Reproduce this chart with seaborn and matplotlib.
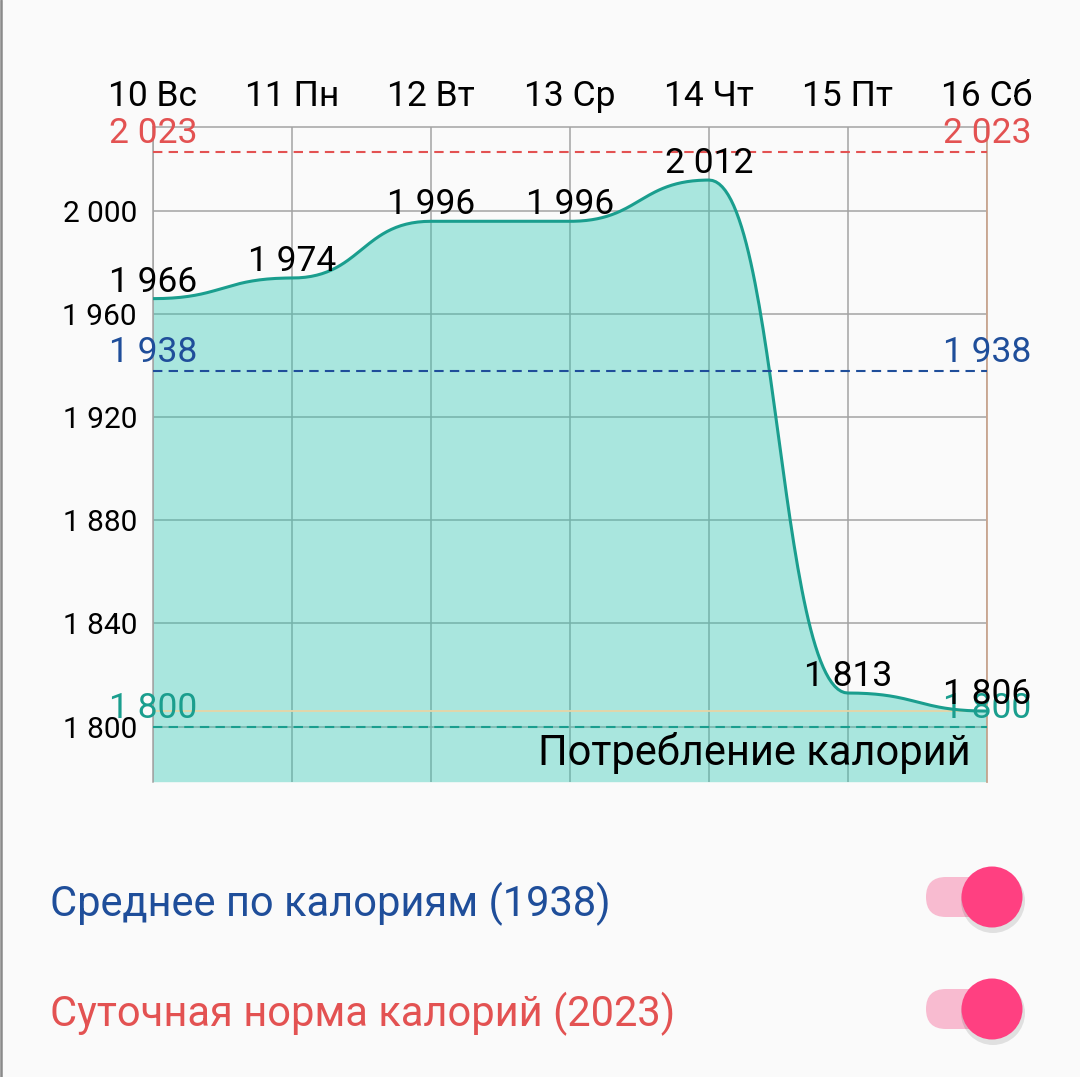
import numpy as np
import pandas as pd
import matplotlib
matplotlib.use("Agg")
import matplotlib.pyplot as plt
import seaborn as sns
from matplotlib.ticker import FuncFormatter
from matplotlib.patches import FancyBboxPatch, Circle

# ---- data ----
days = ["10 Вс", "11 Пн", "12 Вт", "13 Ср", "14 Чт", "15 Пт", "16 Сб"]
calories = [1966, 1974, 1996, 1996, 2012, 1813, 1806]
daily_norm = 2023
average = 1938
minimum = 1800
y_ticks = [1800, 1840, 1880, 1920, 1960, 2000]
chart_label = "Потребление калорий"
legend_avg = "Среднее по калориям (1938)"
legend_norm = "Суточная норма калорий (2023)"

sns.set_style("white")
plt.rcParams["font.family"] = ["Roboto", "DejaVu Sans"]

BG = "#fafafa"
TEAL_LINE = "#1a9e8e"
TEAL_FILL = "#30c8b4"
RED = "#e35252"
BLUE = "#1f4e9a"
GRID = "#a3a3a3"


def fmt(v):
    return f"{int(round(v)):,}".replace(",", " ")


def horizontal_bezier(xs, ys, n=60):
    # rendering of the chart's horizontal-bezier line mode between data points
    px, py = [xs[0]], [ys[0]]
    t = np.linspace(0, 1, n)[1:]
    for i in range(1, len(xs)):
        x0, y0, x1, y1 = xs[i - 1], ys[i - 1], xs[i], ys[i]
        xm = (x0 + x1) / 2
        bx = (1 - t) ** 3 * x0 + 3 * (1 - t) ** 2 * t * xm + 3 * (1 - t) * t ** 2 * xm + t ** 3 * x1
        by = (1 - t) ** 3 * y0 + 3 * (1 - t) ** 2 * t * y0 + 3 * (1 - t) * t ** 2 * y1 + t ** 3 * y1
        px.extend(bx)
        py.extend(by)
    return np.array(px), np.array(py)


fig = plt.figure(figsize=(10.8, 10.77), dpi=100, facecolor=BG)
W, H = 1080, 1077

# overlay axes in pixel units for the UI pieces (toggles, border)
ui = fig.add_axes([0, 0, 1, 1], zorder=-1)
ui.set_xlim(0, W)
ui.set_ylim(H, 0)
ui.axis("off")
ui.set_facecolor(BG)

L, R, T, B = 153, 987, 126.7, 781.7
ax = fig.add_axes([L / W, 1 - B / H, (R - L) / W, (B - T) / H])
ax.set_facecolor(BG)

xs = np.arange(len(days))
ylo, yhi = 1778.6, 2032.7
ax.set_xlim(0, len(days) - 1)
ax.set_ylim(ylo, yhi)

# grid
for x in xs:
    ax.axvline(x, color=GRID, lw=1.1, zorder=0)
for y in y_ticks:
    ax.axhline(y, color=GRID, lw=1.1, zorder=0)

# smooth curve
cx, cy = horizontal_bezier(xs, calories)
curve = pd.DataFrame({"x": cx, "y": cy})
ax.fill_between(curve["x"], curve["y"], ylo, color=TEAL_FILL, alpha=0.4, lw=0, zorder=1)
sns.lineplot(data=curve, x="x", y="y", ax=ax, color=TEAL_LINE, lw=2.2, zorder=3,
             sort=False, estimator=None)

# last value line
ax.axhline(calories[-1], color="#e6d5a6", lw=1.3, zorder=2)

# limit lines
for val, col in [(daily_norm, RED), (average, BLUE), (minimum, TEAL_LINE)]:
    ax.axhline(val, color=col, lw=1.5, ls=(0, (4.5, 3)), zorder=4)
    for xp in (0, len(days) - 1):
        ax.annotate(fmt(val), (xp, val), xytext=(0, 6.5), textcoords="offset points",
                    ha="center", va="baseline", fontsize=25.5, color=col, zorder=6,
                    annotation_clip=False)

# value labels
for xp, v in zip(xs, calories):
    ax.annotate(fmt(v), (xp, v), xytext=(0, 5), textcoords="offset points",
                ha="center", va="baseline", fontsize=25.5, color="black", zorder=6,
                annotation_clip=False)

ax.text(0.98, 0.025, chart_label, transform=ax.transAxes, ha="right", va="baseline",
        fontsize=30, color="black", zorder=6)

# axes styling
ax.xaxis.tick_top()
ax.set_xticks(xs)
ax.set_xticklabels(days)
ax.set_yticks(y_ticks)
ax.yaxis.set_major_formatter(FuncFormatter(lambda v, p: fmt(v)))
ax.tick_params(axis="x", length=0, pad=10, labelsize=25.5, colors="black")
ax.tick_params(axis="y", length=0, pad=11.5, labelsize=21.5, colors="black")
ax.set_xlabel("")
ax.set_ylabel("")
for s in ["left", "top"]:
    ax.spines[s].set_color(GRID)
    ax.spines[s].set_linewidth(1.1)
ax.spines["right"].set_color("#c9a58f")
ax.spines["right"].set_linewidth(1.3)
ax.spines["bottom"].set_visible(False)

# legend rows with toggles
for ytxt, yc, txt, col in [(916, 897, legend_avg, BLUE), (1026, 1009, legend_norm, RED)]:
    ui.text(50, ytxt, txt, ha="left", va="baseline", fontsize=30, color=col)
    ui.add_patch(FancyBboxPatch((926, yc - 20), 66, 40,
                                boxstyle="round,pad=0,rounding_size=20",
                                facecolor="#f8bbd0", edgecolor="none"))
    ui.add_patch(Circle((993, yc + 4), 32, facecolor="#000000", alpha=0.10, edgecolor="none"))
    ui.add_patch(Circle((992, yc), 30.5, facecolor="#ff4081", edgecolor="none"))

ui.plot([1.2, 1.2], [0, H], color="#8a8a8a", lw=1.8)

fig.savefig("out.png", dpi=100, facecolor=BG)
